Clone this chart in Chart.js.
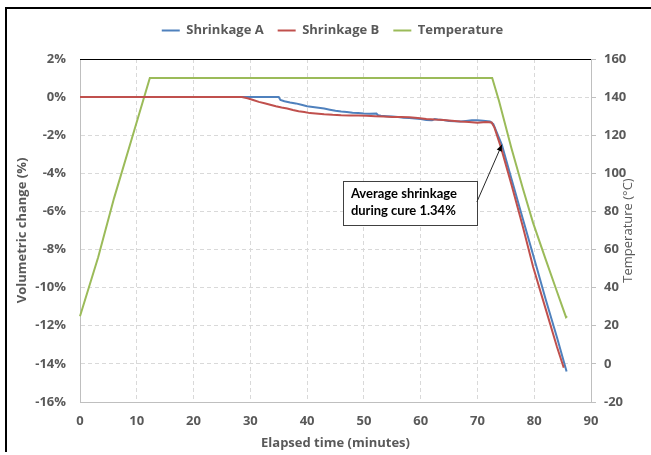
<!DOCTYPE html>
<html>
<head>
<meta charset="utf-8">
<script src="https://cdn.jsdelivr.net/npm/chart.js@4/dist/chart.umd.min.js"></script>
<style>
    html, body { margin: 0; padding: 0; background: #fff; }
    #wrap { width: 651px; height: 455px; position: relative; }
</style>
</head>
<body>
<div id="wrap"><canvas id="cureChart" width="651" height="455"></canvas></div>
<script>
// (minutes / % / °C)
const seriesNames = ['Shrinkage A', 'Shrinkage B', 'Temperature'];

const timeA = [0, 35.0, 35.3, 36, 37, 38, 39, 40, 41, 42, 43, 44, 45, 46, 47, 48, 49, 50, 51, 52.2, 52.5, 53,
    54, 55, 56, 57, 58, 59, 60, 61, 62, 62.5, 63, 64, 65, 66, 67, 68, 69, 70, 71, 72.2, 72.8, 74.3, 76, 78,
    80.4, 82, 84, 85.7];
const shrinkA = [0, 0, -0.15, -0.22, -0.28, -0.33, -0.40, -0.48, -0.52, -0.56, -0.60, -0.66, -0.72, -0.76, -0.78,
    -0.82, -0.84, -0.86, -0.87, -0.86, -0.95, -0.98, -1.00, -1.02, -1.05, -1.08, -1.10, -1.12, -1.15, -1.20,
    -1.22, -1.15, -1.17, -1.20, -1.25, -1.27, -1.28, -1.25, -1.22, -1.22, -1.24, -1.28, -1.42, -2.5, -4.3,
    -6.4, -8.9, -10.6, -12.6, -14.4];

const timeB = [0, 28.5, 29.5, 30.5, 31.5, 32.5, 33.5, 34.5, 35.5, 36.5, 37.5, 38.5, 39.5, 40.5, 41.5, 43,
    44.5, 46, 47.5, 49, 50.5, 52, 53.5, 55, 56.5, 58, 59.5, 61, 62.5, 64, 65.5, 67, 68.5, 70, 71.5, 72.5, 73.0,
    74.1, 76, 78, 79.8, 82, 84, 85.2];
const shrinkB = [0, 0, -0.06, -0.15, -0.25, -0.32, -0.40, -0.48, -0.55, -0.60, -0.68, -0.74, -0.78, -0.84,
    -0.86, -0.90, -0.93, -0.95, -0.96, -0.97, -0.98, -1.00, -1.02, -1.05, -1.04, -1.06, -1.10, -1.15, -1.18,
    -1.20, -1.24, -1.28, -1.30, -1.34, -1.30, -1.33, -1.6, -2.6, -4.6, -6.8, -8.9, -11.1, -13.1, -14.2];

const timeT = [0, 3.2, 6, 9, 12.3, 72.6, 73.8, 76, 78, 79.8, 82, 84, 85.6, 85.8];
const tempT = [25, 56, 87, 117, 150, 150, 138, 113, 92, 74, 55, 38, 24.5, 25];

const xTicks = [0, 10, 20, 30, 40, 50, 60, 70, 80, 90];
const pctTicks = [2, 0, -2, -4, -6, -8, -10, -12, -14, -16];
const tempTicks = [160, 140, 120, 100, 80, 60, 40, 20, 0, -20];

const noteLines = ['Average shrinkage', 'during cure 1.34%'];

const FONT = '"Open Sans", Lato, sans-serif';
const NOTE_FONT = 'Lato, "Open Sans", sans-serif';
const GREY = '#595959';

Chart.defaults.font.family = FONT;
Chart.defaults.font.size = 13;
Chart.defaults.font.weight = 'bold';
Chart.defaults.color = GREY;

function pairs(xs, ys) {
    return xs.map((x, i) => ({ x: x, y: ys[i] }));
}

// frame, top border and the call-out box
const extrasPlugin = {
    id: 'extras',
    beforeDraw(chart) {
        const ctx = chart.ctx;
        ctx.save();
        ctx.fillStyle = '#fff';
        ctx.fillRect(0, 0, chart.width, chart.height);
        ctx.strokeStyle = '#000';
        ctx.lineWidth = 2;
        ctx.beginPath();
        ctx.moveTo(6, 452);
        ctx.lineTo(6, 8);
        ctx.lineTo(651, 8);
        ctx.stroke();
        ctx.restore();
    },
    afterDraw(chart) {
        const { ctx, chartArea, scales } = chart;
        const x = scales.x, y = scales.y;
        ctx.save();
        // black top edge of plot area
        ctx.strokeStyle = '#000';
        ctx.lineWidth = 1;
        ctx.beginPath();
        ctx.moveTo(chartArea.left, chartArea.top + 0.5);
        ctx.lineTo(chartArea.right, chartArea.top + 0.5);
        ctx.stroke();

        // call-out box
        const bx1 = x.getPixelForValue(46.3), bx2 = x.getPixelForValue(69.9);
        const by1 = y.getPixelForValue(-4.4), by2 = y.getPixelForValue(-6.7);
        ctx.fillStyle = '#fff';
        ctx.fillRect(bx1, by1, bx2 - bx1, by2 - by1);
        ctx.strokeStyle = '#404040';
        ctx.lineWidth = 1;
        ctx.strokeRect(Math.round(bx1) + 0.5, Math.round(by1) + 0.5, Math.round(bx2 - bx1), Math.round(by2 - by1));
        ctx.fillStyle = '#000';
        ctx.font = 'bold 13px ' + NOTE_FONT;
        ctx.textBaseline = 'middle';
        ctx.textAlign = 'left';
        ctx.fillText(noteLines[0], bx1 + 8, by1 + 13);
        ctx.fillText(noteLines[1], bx1 + 8, by1 + 30);

        // arrow
        const ax1 = bx2, ay1 = y.getPixelForValue(-5.5);
        const ax2 = x.getPixelForValue(74.3), ay2 = y.getPixelForValue(-2.5);
        ctx.strokeStyle = '#262626';
        ctx.beginPath();
        ctx.moveTo(ax1, ay1);
        ctx.lineTo(ax2, ay2);
        ctx.stroke();
        const ang = Math.atan2(ay2 - ay1, ax2 - ax1);
        ctx.fillStyle = '#000';
        ctx.beginPath();
        ctx.moveTo(ax2, ay2);
        ctx.lineTo(ax2 - 7 * Math.cos(ang - 0.4), ay2 - 7 * Math.sin(ang - 0.4));
        ctx.lineTo(ax2 - 7 * Math.cos(ang + 0.4), ay2 - 7 * Math.sin(ang + 0.4));
        ctx.closePath();
        ctx.fill();

        // right axis title, reading bottom to top
        ctx.fillStyle = GREY;
        ctx.font = '13px ' + FONT;
        ctx.textAlign = 'center';
        ctx.translate(628, (chartArea.top + chartArea.bottom) / 2);
        ctx.rotate(-Math.PI / 2);
        ctx.fillText('Temperature (°C)', 0, 0);
        ctx.restore();
    }
};

const ctx = document.getElementById('cureChart');
new Chart(ctx, {
    type: 'line',
    data: {
        datasets: [
            {
                label: seriesNames[0],
                data: pairs(timeA, shrinkA),
                yAxisID: 'y',
                borderColor: '#4F81BD',
                backgroundColor: '#4F81BD',
                borderWidth: 2,
                pointRadius: 0,
                tension: 0,
                order: 2
            },
            {
                label: seriesNames[1],
                data: pairs(timeB, shrinkB),
                yAxisID: 'y',
                borderColor: '#C0504D',
                backgroundColor: '#C0504D',
                borderWidth: 2,
                pointRadius: 0,
                tension: 0,
                order: 1
            },
            {
                label: seriesNames[2],
                data: pairs(timeT, tempT),
                yAxisID: 'y2',
                borderColor: '#9BBB59',
                backgroundColor: '#9BBB59',
                borderWidth: 2,
                pointRadius: 0,
                tension: 0,
                order: 3
            }
        ]
    },
    options: {
        responsive: false,
        animation: false,
        layout: { padding: { top: 10, left: 14, right: 0, bottom: 0 } },
        plugins: {
            tooltip: { enabled: false },
            legend: {
                position: 'top',
                labels: {
                    usePointStyle: true,
                    pointStyle: 'line',
                    pointStyleWidth: 18,
                    boxHeight: 13,
                    padding: 14,
                    color: GREY,
                    font: { family: FONT, size: 13, weight: 'bold' },
                    sort: (a, b) => a.datasetIndex - b.datasetIndex
                }
            }
        },
        scales: {
            gap: {
                // empty strip between legend and plot
                type: 'linear',
                axis: 'x',
                position: 'top',
                display: true,
                afterFit: (s) => { s.height = 12; },
                ticks: { display: false },
                grid: { display: false },
                border: { display: false }
            },
            x: {
                type: 'linear',
                min: 0,
                max: 90,
                afterBuildTicks: (s) => { s.ticks = xTicks.map(v => ({ value: v })); },
                afterFit: (s) => { s.height = 53; },
                grid: { color: '#d9d9d9', drawTicks: false },
                border: { display: true, color: '#bfbfbf', dash: [4, 3] },
                ticks: { color: GREY, padding: 11, maxRotation: 0, font: { family: FONT, size: 13, weight: 'bold' } },
                title: { display: true, text: 'Elapsed time (minutes)', color: GREY, padding: { top: 2 },
                    font: { family: FONT, size: 13, weight: 'bold' } }
            },
            y: {
                position: 'left',
                min: -16,
                max: 2,
                afterBuildTicks: (s) => { s.ticks = pctTicks.map(v => ({ value: v })); },
                afterFit: (s) => { s.width = 66; },
                grid: { color: '#d9d9d9', drawTicks: false },
                border: { display: true, color: '#bfbfbf', dash: [4, 3] },
                ticks: { color: GREY, padding: 14, callback: (v) => v + '%',
                    font: { family: FONT, size: 13, weight: 'bold' } },
                title: { display: true, text: 'Volumetric change (%)', color: GREY, padding: 0,
                    font: { family: FONT, size: 13, weight: 'bold' } }
            },
            y2: {
                position: 'right',
                min: -20,
                max: 160,
                afterBuildTicks: (s) => { s.ticks = tempTicks.map(v => ({ value: v })); },
                afterFit: (s) => { s.width = 60; },
                grid: { drawOnChartArea: false, drawTicks: true, tickLength: 5, color: '#bfbfbf' },
                border: { display: true, color: '#bfbfbf' },
                ticks: { color: GREY, padding: 8, font: { family: FONT, size: 13, weight: 'bold' } }
            }
        }
    },
    plugins: [extrasPlugin]
});
</script>
</body>
</html>
